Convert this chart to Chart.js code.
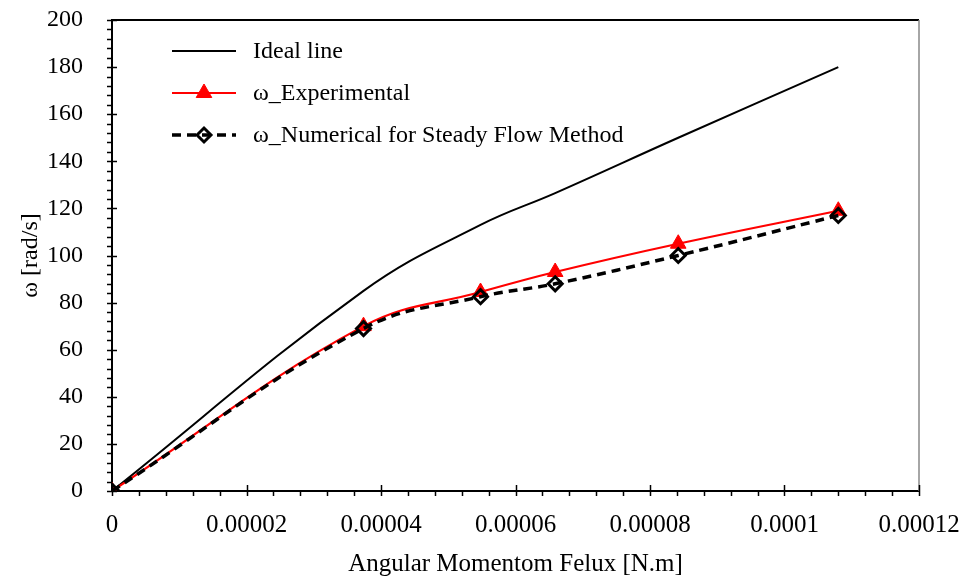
<!DOCTYPE html>
<html>
<head>
<meta charset="utf-8">
<script src="https://cdn.jsdelivr.net/npm/chart.js@4/dist/chart.umd.min.js"></script>
<style>
  html, body { margin: 0; padding: 0; background: #fff; }
  #wrap { width: 964px; height: 579px; }
</style>
</head>
<body>
<div id="wrap"><canvas id="chart" width="964" height="579"></canvas></div>
<script>
// values
const momentumFlux = [0, 0.0000374, 0.0000548, 0.0000659, 0.0000842, 0.000108];
const omegaIdeal = [0, 85, 113, 126.5, 150, 180];
const omegaExperimental = [0, 70, 84.5, 93, 105, 119];
const omegaNumerical = [0, 69, 82.5, 88, 100, 117];

const seriesNames = ['Ideal line', 'ω_Experimental', 'ω_Numerical for Steady Flow Method'];
const xTickValues = [0, 0.00002, 0.00004, 0.00006, 0.00008, 0.0001, 0.00012];
const yTickValues = [0, 20, 40, 60, 80, 100, 120, 140, 160, 180, 200];

const FONT = "'Liberation Serif', 'DejaVu Serif', serif";

function toPoints(ys) {
  return momentumFlux.map((x, i) => ({ x: x, y: ys[i] }));
}

// minor ticks, frame and the in-plot legend
const decorPlugin = {
  id: 'decor',
  afterDraw(chart) {
    const ctx = chart.ctx;
    const a = chart.chartArea;
    const xs = chart.scales.x, ys = chart.scales.y;
    ctx.save();
    // frame top + right
    ctx.strokeStyle = '#000';
    ctx.lineWidth = 2;
    ctx.beginPath();
    ctx.moveTo(a.left, a.top);
    ctx.lineTo(a.right, a.top);
    ctx.stroke();
    ctx.strokeStyle = '#888';
    ctx.lineWidth = 1.5;
    ctx.beginPath();
    ctx.moveTo(a.right, a.top);
    ctx.lineTo(a.right, a.bottom);
    ctx.stroke();

    ctx.strokeStyle = '#000';
    ctx.lineWidth = 1.5;
    // y ticks: minor every 4, major every 20
    for (let v = 0; v <= 200; v += 4) {
      const py = Math.round(ys.getPixelForValue(v)) + 0.5;
      const major = v % 20 === 0;
      ctx.beginPath();
      ctx.moveTo(a.left - 5, py);
      ctx.lineTo(a.left + (major ? 5 : 0), py);
      ctx.stroke();
    }
    // x ticks: minor every 0.000004, major every 0.00002
    for (let k = 0; k <= 30; k++) {
      const px = Math.round(xs.getPixelForValue(k * 0.000004)) + 0.5;
      const major = k % 5 === 0;
      ctx.beginPath();
      ctx.moveTo(px, a.bottom + 5);
      ctx.lineTo(px, a.bottom - (major ? 6 : 0));
      ctx.stroke();
    }

    // legend
    const rows = [51, 93, 135];
    const x0 = 172, x1 = 236, tx = 253;
    ctx.font = '24px ' + FONT;
    ctx.textBaseline = 'middle';
    chart.data.datasets.forEach((ds, i) => {
      const y = rows[i];
      ctx.save();
      ctx.strokeStyle = ds.borderColor;
      ctx.lineWidth = ds.borderWidth;
      ctx.setLineDash(ds.borderDash || []);
      ctx.beginPath();
      ctx.moveTo(x0, y);
      ctx.lineTo(x1, y);
      ctx.stroke();
      ctx.restore();
      if (ds.pointRadius > 0) {
        ctx.save();
        ctx.fillStyle = ds.pointBackgroundColor;
        ctx.strokeStyle = ds.pointBorderColor;
        ctx.lineWidth = ds.pointBorderWidth;
        Chart.helpers.drawPoint(ctx, {
          pointStyle: ds.pointStyle,
          radius: ds.pointRadius,
          borderWidth: ds.pointBorderWidth
        }, (x0 + x1) / 2, y);
        ctx.restore();
      }
      ctx.fillStyle = '#000';
      ctx.fillText(seriesNames[i], tx, y + 1);
    });
    ctx.restore();
  }
};

new Chart(document.getElementById('chart').getContext('2d'), {
  type: 'line',
  data: {
    datasets: [{
      label: seriesNames[0],
      data: toPoints(omegaIdeal),
      borderColor: '#000',
      borderWidth: 2,
      pointRadius: 0,
      tension: 0.4,
      order: 3
    }, {
      label: seriesNames[1],
      data: toPoints(omegaExperimental),
      borderColor: '#ff0000',
      borderWidth: 2.2,
      pointStyle: 'triangle',
      pointRadius: 9,
      pointBorderWidth: 1,
      pointBackgroundColor: '#ff0000',
      pointBorderColor: '#ff0000',
      tension: 0.4,
      order: 2
    }, {
      label: seriesNames[2],
      data: toPoints(omegaNumerical),
      borderColor: '#000',
      borderWidth: 3.5,
      borderDash: [9, 6],
      pointStyle: 'rectRot',
      pointRadius: 7,
      pointBorderWidth: 3,
      pointBackgroundColor: 'rgba(0,0,0,0)',
      pointBorderColor: '#000',
      tension: 0.4,
      order: 1
    }]
  },
  options: {
    responsive: false,
    animation: false,
    layout: { padding: { top: 20, right: 45, left: 16, bottom: 0 } },
    plugins: {
      legend: { display: false },
      tooltip: { enabled: false }
    },
    scales: {
      x: {
        type: 'linear',
        min: 0,
        max: 0.00012,
        afterBuildTicks: (s) => { s.ticks = xTickValues.map(v => ({ value: v })); },
        afterFit: (s) => { s.height = 88; s.paddingLeft = 0; s.paddingRight = 0; },
        grid: { display: false },
        border: { display: true, color: '#000', width: 2 },
        ticks: {
          padding: 11,
          color: '#000',
          font: { family: FONT, size: 25 },
          maxRotation: 0,
          callback: (v) => String(parseFloat(Number(v).toFixed(6)))
        },
        title: {
          display: true,
          text: 'Angular Momentom Felux [N.m]',
          color: '#000',
          font: { family: FONT, size: 25 },
          padding: { top: 8, bottom: 0 }
        }
      },
      y: {
        min: 0,
        max: 200,
        afterBuildTicks: (s) => { s.ticks = yTickValues.map(v => ({ value: v })); },
        afterFit: (s) => { s.width = 96; s.paddingTop = 0; s.paddingBottom = 0; },
        grid: { display: false },
        border: { display: true, color: '#000', width: 2 },
        ticks: {
          padding: 21,
          color: '#000',
          font: { family: FONT, size: 24 }
        },
        title: {
          display: true,
          text: 'ω [rad/s]',
          color: '#000',
          font: { family: FONT, size: 24 },
          padding: { top: 0, bottom: 6 }
        }
      }
    }
  },
  plugins: [decorPlugin]
});
</script>
</body>
</html>
